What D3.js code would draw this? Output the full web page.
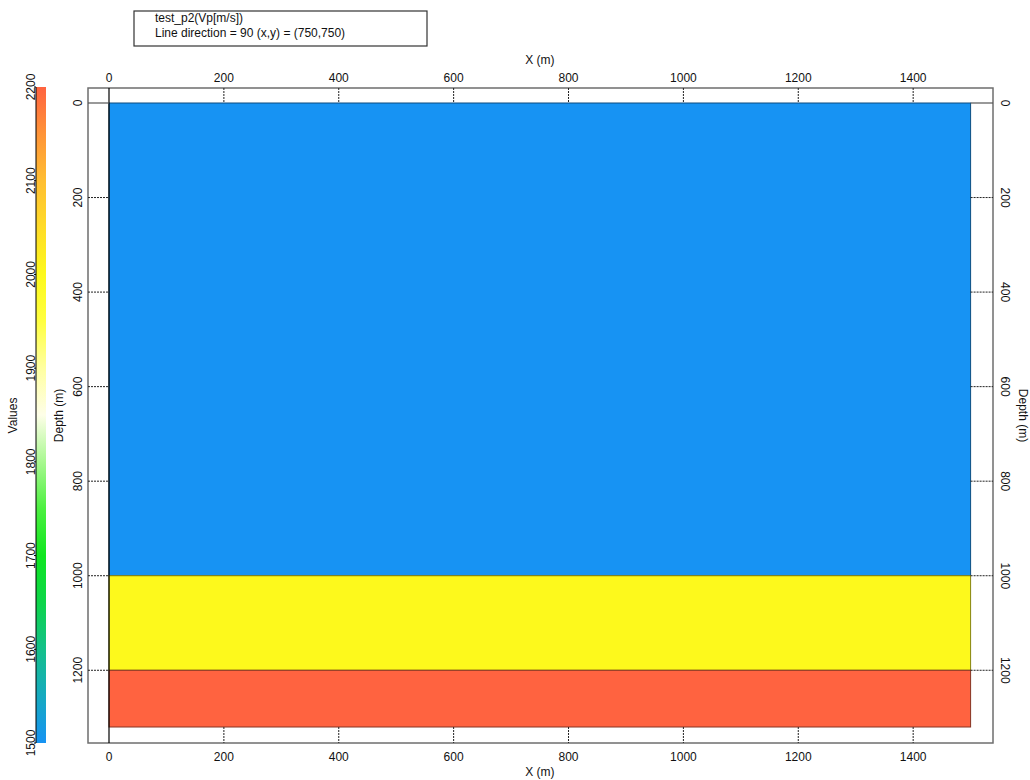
<!DOCTYPE html>
<html>
<head>
<meta charset="utf-8">
<script src="https://cdn.jsdelivr.net/npm/d3@7"></script>
<style>
  body { margin: 0; background: #fff; }
  svg { display: block; font-family: "Liberation Sans", Arial, sans-serif; }
</style>
</head>
<body>
<svg id="chart" width="1030" height="780"></svg>
<script>
// Velocity model section: layers (depth ranges in m) and P-wave velocities
const layerTops = [0, 1000, 1200];
const layerBottoms = [1000, 1200, 1320];
const layerVelocities = [1500, 2000, 2200];
const xExtent = [0, 1500];
const xTicks = [0, 200, 400, 600, 800, 1000, 1200, 1400];
const depthTicks = [0, 200, 400, 600, 800, 1000, 1200];
const colorTicks = [1500, 1600, 1700, 1800, 1900, 2000, 2100, 2200];
const colorStops = [1500, 1550, 1600, 1650, 1700, 1750, 1800, 1850, 1900, 1950, 2000, 2050, 2100, 2150, 2200];
const colorValues = ["#1793f3", "#16aac0", "#14c08a", "#0dd54a", "#10e620", "#4cf040", "#a8f890", "#fefee8",
                     "#ffffa0", "#ffff40", "#fdf91c", "#ffdc28", "#ffbe32", "#ff9438", "#ff6340"];
const titleLines = ["test_p2(Vp[m/s])", "Line direction = 90 (x,y) = (750,750)"];

const svg = d3.select("#chart");

const frame = { left: 88, top: 88, right: 993, bottom: 743 };
const x = d3.scaleLinear().domain(xExtent).range([109, 970.6]);
const y = d3.scaleLinear().domain([0, 1320]).range([103, 727]);
const color = d3.scaleLinear().domain(colorStops).range(colorValues).clamp(true);

// Layers
svg.append("g").selectAll("rect")
  .data(layerVelocities)
  .join("rect")
  .attr("x", x(xExtent[0]))
  .attr("y", (d, i) => y(layerTops[i]))
  .attr("width", x(xExtent[1]) - x(xExtent[0]))
  .attr("height", (d, i) => y(layerBottoms[i]) - y(layerTops[i]))
  .attr("fill", d => color(d))
  .attr("stroke", d => d3.color(color(d)).darker(1.8))
  .attr("stroke-width", 1);

// Frame
svg.append("rect")
  .attr("x", frame.left).attr("y", frame.top)
  .attr("width", frame.right - frame.left).attr("height", frame.bottom - frame.top)
  .attr("fill", "none").attr("stroke", "#6e6e6e").attr("stroke-width", 1.5);

// Tick lines between frame and data area (zero ticks solid, others dotted)
const tickG = svg.append("g");
xTicks.forEach(t => {
  const solid = t === 0;
  [[frame.top, y(0)], [y(1320), frame.bottom]].forEach(([a, b]) => {
    tickG.append("line")
      .attr("x1", x(t)).attr("x2", x(t)).attr("y1", a).attr("y2", b)
      .attr("stroke", solid ? "#000" : "#222")
      .attr("stroke-width", solid ? 1.2 : 1)
      .attr("stroke-dasharray", solid ? null : "2,1");
  });
});
// solid x=0 line along data left edge
tickG.append("line").attr("x1", x(0)).attr("x2", x(0)).attr("y1", y(0)).attr("y2", y(1320))
  .attr("stroke", "#000").attr("stroke-width", 1.2);
depthTicks.forEach(t => {
  const solid = t === 0;
  [[frame.left, x(0)], [x(1500), frame.right]].forEach(([a, b]) => {
    tickG.append("line")
      .attr("y1", y(t)).attr("y2", y(t)).attr("x1", a).attr("x2", b)
      .attr("stroke", solid ? "#555" : "#222")
      .attr("stroke-width", solid ? 1.2 : 1)
      .attr("stroke-dasharray", solid ? null : "2,1");
  });
});

// Tick labels
const lab = svg.append("g").attr("font-size", 12).attr("fill", "#111");
xTicks.forEach(t => {
  lab.append("text").attr("x", x(t)).attr("y", 81.5).attr("text-anchor", "middle").text(t);
  lab.append("text").attr("x", x(t)).attr("y", 760.5).attr("text-anchor", "middle").text(t);
});
depthTicks.forEach(t => {
  lab.append("text").attr("transform", `translate(81.5,${y(t)}) rotate(-90)`)
    .attr("text-anchor", "middle").text(t);
  lab.append("text").attr("transform", `translate(1001,${y(t)}) rotate(90)`)
    .attr("text-anchor", "middle").text(t);
});

// Axis titles
const midX = (x(0) + x(1500)) / 2;
const midY = (frame.top + frame.bottom) / 2;
lab.append("text").attr("x", midX).attr("y", 64).attr("text-anchor", "middle").text("X (m)");
lab.append("text").attr("x", midX).attr("y", 776).attr("text-anchor", "middle").text("X (m)");
lab.append("text").attr("transform", `translate(63,${midY}) rotate(-90)`).attr("text-anchor", "middle").text("Depth (m)");
lab.append("text").attr("transform", `translate(1019,${midY}) rotate(90)`).attr("text-anchor", "middle").text("Depth (m)");

// Colour bar
const cb = { x: 36, w: 10, top: 87, bottom: 743 };
const cy = d3.scaleLinear().domain([1500, 2200]).range([cb.bottom, cb.top]);
const defs = svg.append("defs");
const grad = defs.append("linearGradient").attr("id", "cbar")
  .attr("x1", 0).attr("y1", 1).attr("x2", 0).attr("y2", 0);
colorStops.forEach((v, i) => {
  grad.append("stop").attr("offset", (v - 1500) / 700).attr("stop-color", colorValues[i]);
});
svg.append("rect").attr("x", cb.x).attr("y", cb.top).attr("width", cb.w)
  .attr("height", cb.bottom - cb.top).attr("fill", "url(#cbar)");
svg.append("line").attr("x1", cb.x).attr("x2", cb.x).attr("y1", cb.top).attr("y2", cb.bottom)
  .attr("stroke", "#000").attr("stroke-width", 1);
colorTicks.forEach(t => {
  svg.append("line").attr("x1", cb.x - 2).attr("x2", cb.x).attr("y1", cy(t)).attr("y2", cy(t))
    .attr("stroke", "#000");
  lab.append("text").attr("transform", `translate(34.5,${cy(t)}) rotate(-90)`)
    .attr("text-anchor", "middle").text(t);
});
lab.append("text").attr("transform", `translate(17,${midY}) rotate(-90)`).attr("text-anchor", "middle").text("Values");

// Title box
const tb = svg.append("g");
tb.append("rect").attr("x", 134).attr("y", 11).attr("width", 293).attr("height", 35)
  .attr("fill", "#fff").attr("stroke", "#333").attr("stroke-width", 1.2);
titleLines.forEach((s, i) => {
  tb.append("text").attr("x", 155).attr("y", 21.5 + i * 15.5).attr("font-size", 12).attr("fill", "#111").text(s);
});
</script>
</body>
</html>
